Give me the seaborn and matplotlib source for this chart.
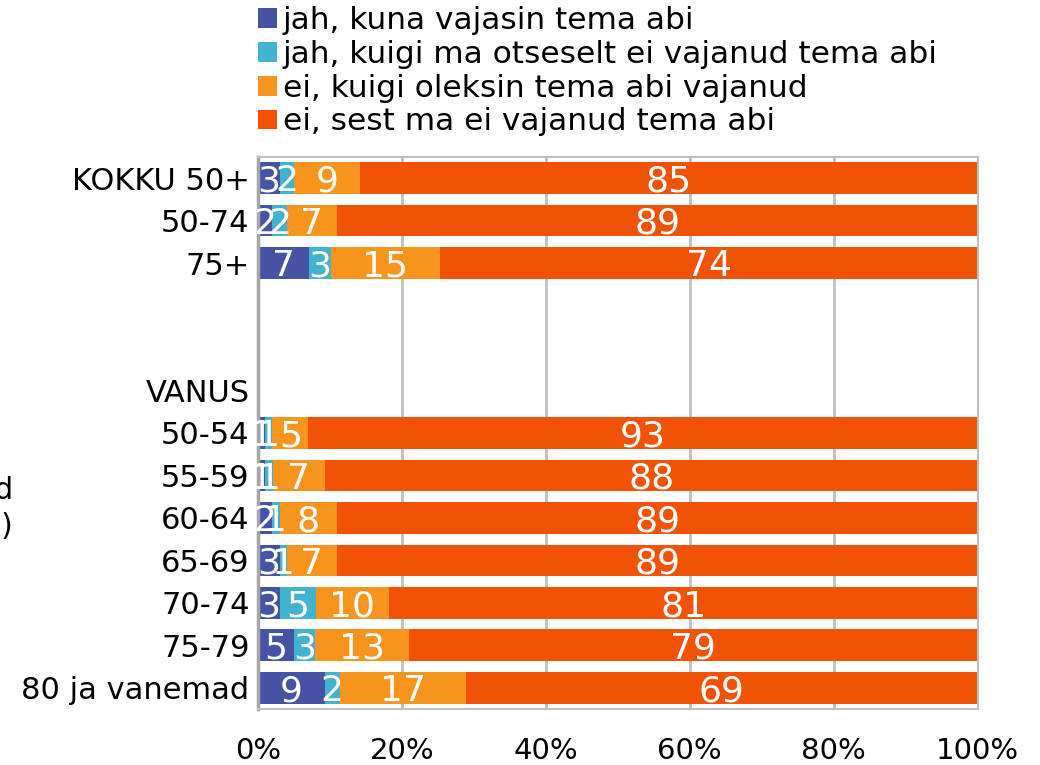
import numpy as np
import pandas as pd
import matplotlib
matplotlib.use("Agg")
import matplotlib.pyplot as plt
import seaborn as sns
from matplotlib.patches import Patch

# andmed
groups = ["KOKKU 50+", "50-74", "75+", "", "", "VANUS",
          "50-54", "55-59", "60-64", "65-69", "70-74", "75-79", "80 ja vanemad"]
series = ["jah, kuna vajasin tema abi",
          "jah, kuigi ma otseselt ei vajanud tema abi",
          "ei, kuigi oleksin tema abi vajanud",
          "ei, sest ma ei vajanud tema abi"]
jah_vajasin = [3, 2, 7, 0, 0, 0, 1, 1, 2, 3, 3, 5, 9]
jah_ei_vajanud = [2, 2, 3, 0, 0, 0, 1, 1, 1, 1, 5, 3, 2]
ei_oleksin = [9, 7, 15, 0, 0, 0, 5, 7, 8, 7, 10, 13, 17]
ei_ei_vajanud = [85, 89, 74, 0, 0, 0, 93, 88, 89, 89, 81, 79, 69]
colors = ["#4653A5", "#41B3CF", "#F7941E", "#F25206"]

keys = [f"r{i}" for i in range(len(groups))]
vals = np.array([jah_vajasin, jah_ei_vajanud, ei_oleksin, ei_ei_vajanud], dtype=float)
tot = vals.sum(axis=0)
has = tot > 0
tot[~has] = 1
pct = vals / tot * 100   # 100% tulbad nagu Excelis
cum = pct.cumsum(axis=0)

df = pd.DataFrame({"key": keys})
for i in range(4):
    df[f"c{i}"] = cum[i]
sub = df[has]

plt.rcParams['font.family'] = ['DejaVu Sans']
fig = plt.figure(figsize=(10.4, 7.65), dpi=100)
ax = fig.add_axes([0.248, 0.073, 0.692, 0.722])

# kumulatiivsed tulbad, suurimast väiksemani
for i in range(3, -1, -1):
    sns.barplot(data=sub, x=f"c{i}", y="key", order=keys, color=colors[i],
                width=0.75, saturation=1, ax=ax, orient="h", linewidth=0)

for j, k in enumerate(keys):
    if not has[j]:
        continue
    left = 0
    for i in range(4):
        w = pct[i, j]
        ax.text(left + w / 2, j + 0.08, f"{int(vals[i, j])}", ha="center", va="center",
                color="white", fontsize=26)
        left += w

ax.set_xlim(0, 100)
ax.set_ylim(len(keys) - 0.5, -0.5)
ax.set_xticks([0, 20, 40, 60, 80, 100])
ax.set_xticklabels([f"{t}%" for t in [0, 20, 40, 60, 80, 100]], fontsize=21)
ax.set_yticks(range(len(keys)))
ax.set_yticklabels(groups, fontsize=22)
ax.tick_params(axis="x", length=0, pad=20)
ax.tick_params(axis="y", length=0, pad=6)
ax.set_xlabel("")
ax.set_ylabel("")
ax.set_axisbelow(True)
ax.grid(axis="x", color="#BFBFBF", linewidth=2)
ax.grid(axis="y", visible=False)
for s in ax.spines.values():
    s.set_color("#BFBFBF")
    s.set_linewidth(1.5)
ax.spines["left"].set_color("#A6A6A6")
ax.spines["left"].set_linewidth(2.5)

handles = [Patch(facecolor=c, edgecolor="none") for c in colors]
fig.legend(handles, series, loc="upper left", bbox_to_anchor=(0.236, 1.008),
           frameon=False, fontsize=22.5, handlelength=0.6, handleheight=0.6,
           handletextpad=0.2, labelspacing=0.15, borderaxespad=0)

fig.text(0.013, 0.335, "vastanud\n(%)", ha="right", va="center", fontsize=21.5,
         multialignment="right", linespacing=1.3)

fig.savefig("out.png", dpi=100)
